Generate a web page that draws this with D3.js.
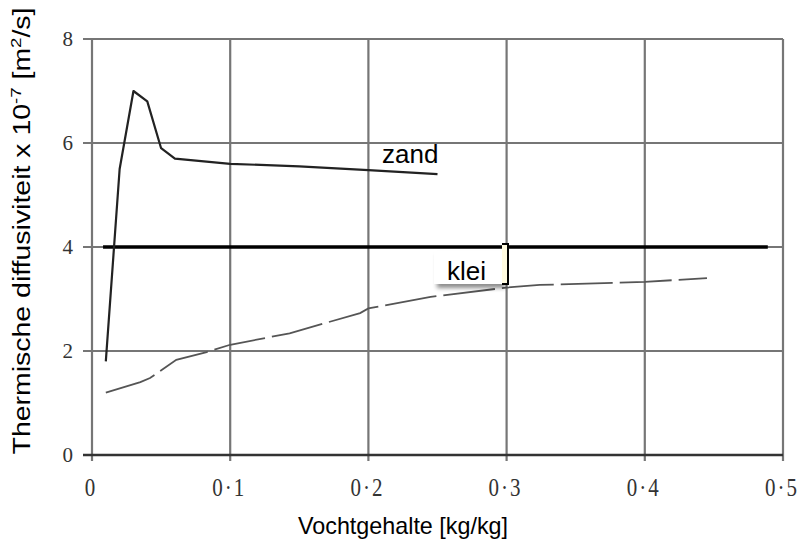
<!DOCTYPE html>
<html>
<head>
<meta charset="utf-8">
<script src="https://cdn.jsdelivr.net/npm/d3@7"></script>
<style>
  html, body { margin: 0; padding: 0; background: #fff; }
  svg { display: block; }
</style>
</head>
<body>
<svg id="chart" width="801" height="545"></svg>
<script>
// Moisture content (kg/kg) and thermal diffusivity (x 10^-7 m²/s)
const zandX = [0.01, 0.02, 0.03, 0.04, 0.05, 0.06, 0.10, 0.15, 0.20, 0.25];
const zandY = [1.8, 5.5, 7.0, 6.8, 5.9, 5.7, 5.6, 5.55, 5.48, 5.4];

const kleiX = [0.01, 0.035, 0.042, 0.061, 0.083, 0.10, 0.143, 0.194, 0.20, 0.245, 0.30, 0.324, 0.40, 0.445];
const kleiY = [1.2, 1.4, 1.48, 1.83, 1.98, 2.12, 2.34, 2.73, 2.82, 3.04, 3.22, 3.27, 3.33, 3.40];

const xTicks = [0, 0.1, 0.2, 0.3, 0.4, 0.5];
const xTickLabels = ["0", "0·1", "0·2", "0·3", "0·4", "0·5"];
const yTicks = [0, 2, 4, 6, 8];

const refValue = 4;
const refRange = [0.008, 0.489];

const svg = d3.select("#chart");
const x = d3.scaleLinear().domain([0, 0.5]).range([92, 783]);
const y = d3.scaleLinear().domain([0, 8]).range([455, 39]);

const gridColor = "#767676";
const serif = "Liberation Serif, Times New Roman, serif";
const sans = "Liberation Sans, Arial, sans-serif";

// horizontal gridlines with short ticks on the left
svg.append("g").selectAll("line").data(yTicks).join("line")
  .attr("x1", x(0) - 9).attr("x2", x(0.5))
  .attr("y1", d => y(d)).attr("y2", d => y(d))
  .attr("stroke", gridColor).attr("stroke-width", 2.2);

// vertical gridlines with short ticks below
svg.append("g").selectAll("line").data(xTicks).join("line")
  .attr("x1", d => x(d)).attr("x2", d => x(d))
  .attr("y1", y(8)).attr("y2", y(0) + 6)
  .attr("stroke", gridColor).attr("stroke-width", 2.2);

// bottom axis line
svg.append("line")
  .attr("x1", x(0) - 9).attr("x2", x(0.5))
  .attr("y1", y(0)).attr("y2", y(0))
  .attr("stroke", "#333").attr("stroke-width", 2.5);

// x tick labels (tall serif digits)
svg.append("g").selectAll("g").data(xTicks).join("g")
  .attr("transform", d => `translate(${x(d) - 1},496) scale(1,1.22)`)
  .append("text")
  .attr("text-anchor", "middle")
  .attr("font-family", serif)
  .attr("font-size", 21).attr("fill", "#333")
  .attr("letter-spacing", 2)
  .text((d, i) => xTickLabels[i]);

// y tick labels
svg.append("g").selectAll("text").data(yTicks).join("text")
  .attr("x", 73).attr("y", d => y(d) + 7)
  .attr("text-anchor", "end")
  .attr("font-family", serif)
  .attr("font-size", 21).attr("fill", "#333")
  .text(d => d);

// reference line at 4
svg.append("line")
  .attr("x1", x(refRange[0])).attr("x2", x(refRange[1]))
  .attr("y1", y(refValue)).attr("y2", y(refValue))
  .attr("stroke", "#000").attr("stroke-width", 3.5);

const line = d3.line().x(d => x(d[0])).y(d => y(d[1]));

// klei curve (dashed)
svg.append("path")
  .datum(kleiX.map((v, i) => [v, kleiY[i]]))
  .attr("d", line)
  .attr("fill", "none")
  .attr("stroke", "#555").attr("stroke-width", 1.8)
  .attr("stroke-dasharray", "52,7");

// zand curve (solid)
svg.append("path")
  .datum(zandX.map((v, i) => [v, zandY[i]]))
  .attr("d", line)
  .attr("fill", "none")
  .attr("stroke", "#222").attr("stroke-width", 2.2)
  .attr("stroke-linejoin", "round");

// zand label
svg.append("text")
  .attr("x", 382).attr("y", 163)
  .attr("font-family", sans)
  .attr("font-size", 26).attr("fill", "#000")
  .text("zand");

// klei label box with drop shadow
const defs = svg.append("defs");
const f = defs.append("filter").attr("id", "shadow")
  .attr("x", "-20%").attr("y", "-20%").attr("width", "150%").attr("height", "160%");
f.append("feDropShadow").attr("dx", 3).attr("dy", 4).attr("stdDeviation", 2)
  .attr("flood-color", "#000").attr("flood-opacity", 0.45);

svg.append("rect")
  .attr("x", 434).attr("y", 251).attr("width", 68).attr("height", 33)
  .attr("fill", "#fff").attr("filter", "url(#shadow)");
svg.append("rect")
  .attr("x", 502).attr("y", 244).attr("width", 6).attr("height", 40)
  .attr("fill", "#fffbe0");
svg.append("path")
  .attr("d", "M502,244 H508 V284 H502")
  .attr("fill", "none").attr("stroke", "#000").attr("stroke-width", 2);

svg.append("text")
  .attr("x", 447).attr("y", 280)
  .attr("font-family", sans)
  .attr("font-size", 26).attr("fill", "#000")
  .text("klei");

// axis titles
svg.append("text")
  .attr("x", 403).attr("y", 534)
  .attr("text-anchor", "middle")
  .attr("font-family", sans)
  .attr("font-size", 24).attr("fill", "#000")
  .attr("textLength", 210).attr("lengthAdjust", "spacingAndGlyphs")
  .text("Vochtgehalte [kg/kg]");

const yt = svg.append("text")
  .attr("transform", "translate(30,231) rotate(-90)")
  .attr("text-anchor", "middle")
  .attr("font-family", sans)
  .attr("font-size", 23).attr("fill", "#000")
  .attr("textLength", 447).attr("lengthAdjust", "spacingAndGlyphs");
yt.append("tspan").text("Thermische diffusiviteit x 10");
yt.append("tspan").attr("dy", -9).attr("font-size", 15).text("-7");
yt.append("tspan").attr("dy", 9).text(" [m");
yt.append("tspan").attr("dy", -9).attr("font-size", 15).text("2");
yt.append("tspan").attr("dy", 9).text("/s]");
</script>
</body>
</html>
